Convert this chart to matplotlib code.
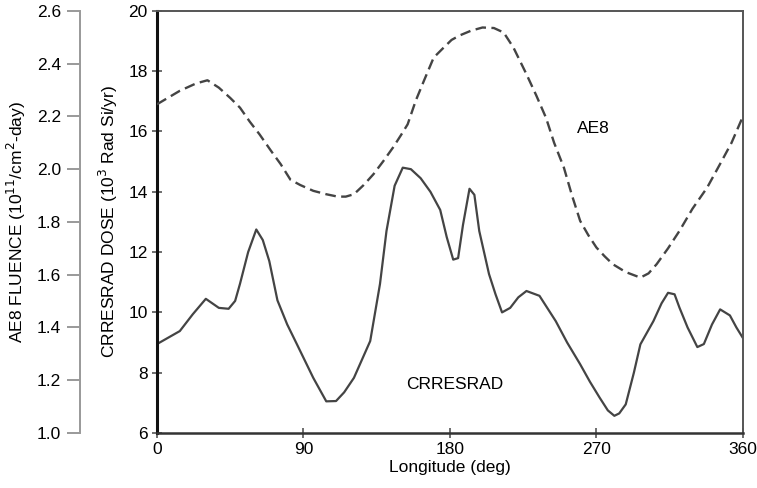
import matplotlib.pyplot as plt

plt.rcParams["font.family"] = ["Liberation Sans", "DejaVu Sans"]

# CRRESRAD dose (10^3 Rad Si/yr) vs longitude
crres_lon = [0, 14, 22, 30, 38, 44, 48, 51, 56, 61, 65, 69, 74, 80, 86, 96, 104,
             110, 115, 121, 131, 137, 141, 146, 151, 156, 162, 168, 174, 178, 182,
             185, 188, 192, 195, 198, 204, 208, 212, 217, 222, 227, 235, 245,
             252, 260, 266, 272, 277, 281, 284, 288, 293, 297, 305, 310, 314,
             318, 321, 326, 332, 336, 341, 346, 352, 356, 360]
crres_dose = [8.95, 9.38, 9.94, 10.45, 10.15, 10.12, 10.38, 10.95, 12.0, 12.75,
              12.4, 11.7, 10.4, 9.6, 8.94, 7.83, 7.05, 7.06, 7.35, 7.83, 9.05,
              10.94, 12.7, 14.2, 14.8, 14.75, 14.45, 14.0, 13.4, 12.5, 11.75,
              11.8, 12.9, 14.1, 13.9, 12.7, 11.27, 10.6, 10.0, 10.15, 10.5, 10.71,
              10.55, 9.71, 9.0, 8.28, 7.7, 7.17, 6.75, 6.57, 6.65, 6.95, 8.0, 8.94,
              9.71, 10.3, 10.65, 10.6, 10.16, 9.5, 8.85, 8.95, 9.6, 10.1, 9.9,
              9.5, 9.15]

# AE8 fluence (10^11 /cm^2-day) vs longitude
ae8_lon = [0, 14, 24, 31, 38, 45, 51, 57, 63, 70, 76, 82, 88, 96, 104, 111, 116,
           121, 127, 133, 139, 145, 150, 154, 159, 164, 170, 176, 181, 186, 193,
           200, 207, 213, 219, 227, 233, 239, 244, 250, 255, 260, 265, 270, 275,
           280, 288, 297, 302, 307, 314, 321, 329, 338, 346, 353, 360]
ae8_flu = [2.246, 2.297, 2.325, 2.337, 2.309, 2.27, 2.233, 2.18, 2.132, 2.07,
           2.019, 1.96, 1.94, 1.918, 1.905, 1.896, 1.896, 1.905, 1.94, 1.981,
           2.03, 2.082, 2.13, 2.17, 2.26, 2.335, 2.423, 2.46, 2.49, 2.507, 2.525,
           2.537, 2.535, 2.518, 2.461, 2.36, 2.28, 2.195, 2.1, 2.006, 1.9, 1.804,
           1.75, 1.703, 1.67, 1.64, 1.61, 1.589, 1.605, 1.64, 1.7, 1.766, 1.85,
           1.93, 2.02, 2.1, 2.2]

x_ticks = [0, 90, 180, 270, 360]
dose_ticks = [6, 8, 10, 12, 14, 16, 18, 20]
flu_ticks = [1.0, 1.2, 1.4, 1.6, 1.8, 2.0, 2.2, 2.4, 2.6]

line_color = "#444444"
FS = 12.5

fig = plt.figure(figsize=(7.57, 4.88), dpi=100)
ax = fig.add_axes([0.2074, 0.1127, 0.774, 0.865])

ax.plot(crres_lon, crres_dose, color=line_color, lw=1.6)
ax.set_xlim(0, 360)
ax.set_ylim(6, 20)
ax.set_xticks(x_ticks)
ax.set_yticks(dose_ticks)
ax.tick_params(direction="inout", length=7.5, width=1.2, labelsize=FS, color="#555555")
ax.tick_params(axis="y", pad=3)
ax.tick_params(axis="x", pad=3)
ax.set_xlabel("Longitude (deg)", fontsize=FS, labelpad=2)
ax.set_ylabel("CRRESRAD DOSE (10$^3$ Rad Si/yr)", fontsize=FS)
ax.yaxis.set_label_coords(-0.064, 0.5)

ax.spines["left"].set_linewidth(2.2)
ax.spines["left"].set_color("#111111")
ax.spines["bottom"].set_linewidth(1.8)
ax.spines["bottom"].set_color("#333333")
for s in ("top", "right"):
    ax.spines[s].set_linewidth(1.4)
    ax.spines[s].set_color("#555555")

# second (fluence) scale on a detached left spine
ax2 = ax.twinx()
ax2.plot(ae8_lon, ae8_flu, color=line_color, lw=1.7, dashes=(4.5, 2.3))
ax2.set_ylim(1.0, 2.6)
ax2.set_yticks(flu_ticks)
ax2.set_yticklabels([f"{v:.1f}" for v in flu_ticks])
ax2.yaxis.set_ticks_position("left")
ax2.yaxis.set_label_position("left")
ax2.spines["left"].set_position(("outward", 55.5))
ax2.spines["left"].set_color("#999999")
ax2.spines["left"].set_linewidth(1.4)
for s in ("top", "right", "bottom"):
    ax2.spines[s].set_visible(False)
ax2.tick_params(axis="y", direction="out", length=9.5, width=1.4, color="#999999",
                labelsize=FS, pad=4)
ax2.set_ylabel("AE8 FLUENCE (10$^{11}$/cm$^2$-day)", fontsize=FS)
ax2.yaxis.set_label_coords(-0.221, 0.5)

ax.text(268, 16.1, "AE8", fontsize=FS, ha="center", va="center")
ax.text(183, 7.6, "CRRESRAD", fontsize=FS, ha="center", va="center")

fig.savefig("out.png", dpi=100)
